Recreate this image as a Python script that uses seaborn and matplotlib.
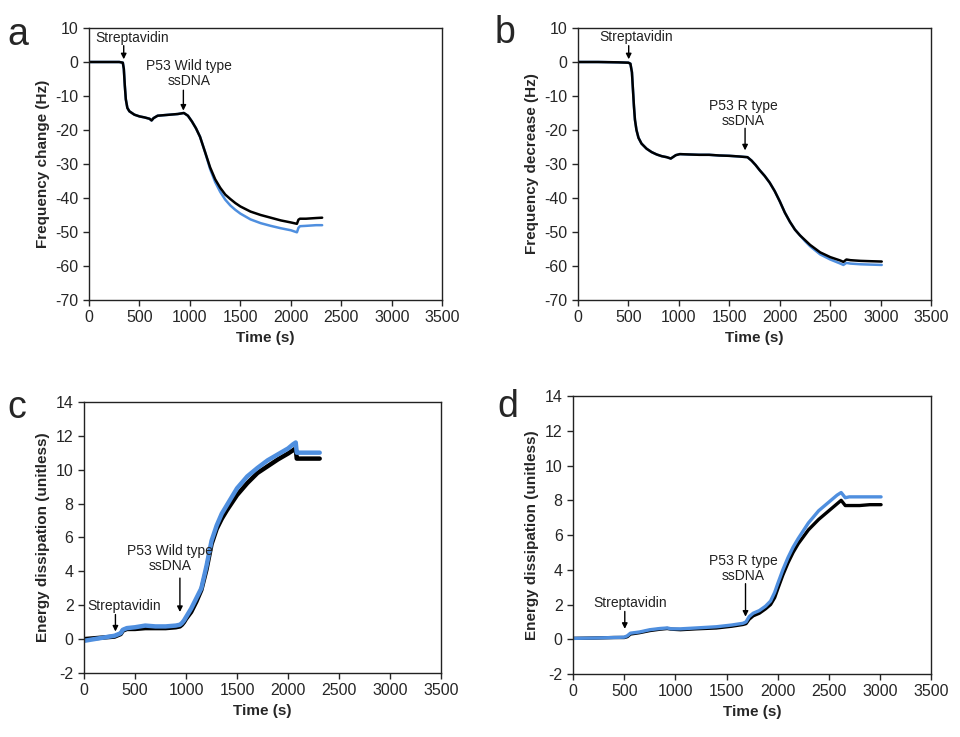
import matplotlib
matplotlib.use("Agg")
import matplotlib.pyplot as plt
import seaborn as sns
import pandas as pd

sns.set_style("ticks")
plt.rcParams["font.family"] = ["Liberation Sans", "DejaVu Sans"]
plt.rcParams["axes.unicode_minus"] = False

BLUE = "#4f8fdf"

# panel a: frequency change, wild type
a_time = [0, 100, 200, 300, 335, 345, 355, 365, 380, 400, 450, 500, 550, 600, 620, 640,
          680, 720, 800, 880, 940, 980, 1020, 1060, 1100, 1150, 1200, 1250, 1300, 1350,
          1400, 1450, 1500, 1600, 1700, 1800, 1900, 2000, 2060, 2075, 2090, 2150, 2200,
          2250, 2310]
a_black = [0, 0, 0, 0, -0.2, -2, -7, -11, -13.5, -14.5, -15.5, -16, -16.3, -16.7, -17.2,
           -16.5, -15.8, -15.7, -15.5, -15.3, -15, -15.8, -17.5, -19.5, -22, -26.5, -31,
           -34.5, -37, -39, -40.3, -41.5, -42.5, -44, -45, -45.8, -46.6, -47.2, -47.6,
           -46.4, -46.1, -46.1, -46, -45.9, -45.8]
a_blue = [0, 0, 0, 0, -0.2, -2, -7, -11, -13.5, -14.5, -15.5, -16, -16.3, -16.7, -17.2,
          -16.5, -15.8, -15.7, -15.5, -15.3, -15, -15.8, -17.5, -19.5, -22, -26.5, -31.5,
          -35.3, -38.2, -40.5, -42.2, -43.5, -44.6, -46.3, -47.4, -48.2, -48.9, -49.5,
          -50.1, -48.8, -48.3, -48.2, -48.1, -48, -48]

# panel b: frequency decrease, R type
b_time = [0, 200, 400, 500, 520, 535, 545, 555, 565, 580, 600, 630, 680, 730, 780, 830,
          880, 920, 940, 970, 1010, 1100, 1200, 1300, 1400, 1500, 1600, 1680, 1720, 1760,
          1800, 1850, 1900, 1950, 2000, 2050, 2100, 2150, 2200, 2250, 2300, 2400, 2500,
          2600, 2630, 2660, 2700, 2800, 2900, 3010]
b_black = [0, 0, -0.1, -0.2, -0.5, -3, -8, -13, -17, -20, -22.3, -24, -25.5, -26.5, -27.2,
           -27.7, -28, -28.4, -28, -27.4, -27.1, -27.2, -27.3, -27.3, -27.5, -27.6, -27.8,
           -28, -29, -30.3, -31.8, -33.5, -35.5, -38, -41, -44.3, -47, -49.3, -51, -52.4,
           -53.8, -56, -57.4, -58.4, -58.8, -58.1, -58.3, -58.5, -58.6, -58.7]
b_blue = [0, 0, -0.1, -0.2, -0.5, -3, -8, -13, -17, -20, -22.3, -24, -25.5, -26.5, -27.2,
          -27.7, -28, -28.4, -28, -27.4, -27.1, -27.2, -27.3, -27.3, -27.5, -27.6, -27.8,
          -28, -29, -30.3, -31.8, -33.5, -35.5, -38, -41, -44.3, -47, -49.3, -51, -52.7,
          -54.2, -56.6, -58.1, -59.3, -59.7, -59.1, -59.3, -59.5, -59.6, -59.7]

# panel c: dissipation, wild type
c_time = [0, 100, 200, 300, 340, 360, 380, 420, 500, 600, 700, 800, 900, 940, 960, 980,
          1000, 1050, 1100, 1150, 1200, 1250, 1300, 1350, 1400, 1500, 1600, 1700, 1800,
          1900, 2000, 2050, 2075, 2085, 2100, 2200, 2310]
c_black = [0, 0.05, 0.1, 0.15, 0.25, 0.3, 0.5, 0.6, 0.6, 0.65, 0.65, 0.65, 0.7, 0.75,
           0.85, 1.0, 1.2, 1.6, 2.2, 2.9, 4.1, 5.6, 6.5, 7.1, 7.6, 8.5, 9.2, 9.8, 10.2,
           10.6, 10.95, 11.15, 11.25, 10.65, 10.65, 10.65, 10.65]
c_blue = [-0.1, 0, 0.1, 0.2, 0.3, 0.35, 0.55, 0.65, 0.7, 0.8, 0.75, 0.75, 0.8, 0.85, 0.95,
          1.1, 1.3, 1.8, 2.4, 3.0, 4.3, 5.8, 6.7, 7.4, 7.9, 8.9, 9.6, 10.1, 10.55, 10.9,
          11.25, 11.5, 11.6, 11.0, 11.0, 11.0, 11.0]

# panel d: dissipation, R type
d_time = [0, 200, 400, 500, 530, 560, 650, 750, 850, 920, 960, 1050, 1200, 1400, 1550,
          1660, 1690, 1720, 1760, 1820, 1880, 1930, 1970, 2000, 2050, 2100, 2150, 2200,
          2300, 2400, 2500, 2580, 2620, 2660, 2700, 2800, 2900, 3010]
d_black = [0.05, 0.07, 0.1, 0.1, 0.15, 0.3, 0.38, 0.5, 0.58, 0.62, 0.58, 0.55, 0.6, 0.65,
           0.75, 0.85, 0.9, 1.15, 1.35, 1.5, 1.75, 2.0, 2.4, 2.9, 3.7, 4.4, 5.0, 5.5, 6.3,
           6.9, 7.4, 7.8, 8.0, 7.7, 7.7, 7.7, 7.75, 7.75]
d_blue = [0.05, 0.07, 0.1, 0.12, 0.2, 0.35, 0.42, 0.55, 0.62, 0.65, 0.6, 0.6, 0.65, 0.72,
          0.82, 0.92, 1.0, 1.3, 1.5, 1.65, 1.9, 2.2, 2.7, 3.2, 4.0, 4.7, 5.3, 5.8, 6.7,
          7.4, 7.9, 8.3, 8.45, 8.15, 8.2, 8.2, 8.2, 8.2]

freq_ticks = [10, 0, -10, -20, -30, -40, -50, -60, -70]
diss_ticks = [14, 12, 10, 8, 6, 4, 2, 0, -2]
time_ticks = [0, 500, 1000, 1500, 2000, 2500, 3000, 3500]

# (text, text x, text y, arrow x, arrow top, arrow bottom)
a_notes = [("Streptavidin", 430, 7.2, 344, 4.8, 0.8),
           ("P53 Wild type\nssDNA", 990, -3.4, 935, -8.3, -14.3)]
b_notes = [("Streptavidin", 580, 7.3, 503, 4.8, 0.8),
           ("P53 R type\nssDNA", 1640, -15.1, 1656, -19.5, -26)]
c_notes = [("Streptavidin", 390, 1.93, 308, 1.45, 0.45),
           ("P53 Wild type\nssDNA", 840, 4.75, 940, 3.6, 1.6)]
d_notes = [("Streptavidin", 554, 2.07, 505, 1.6, 0.6),
           ("P53 R type\nssDNA", 1662, 4.1, 1685, 3.2, 1.3)]


def draw_panel(ax, time, black, blue, ylabel, yticks, notes, blue_on_top, lw):
    df = pd.DataFrame({"time": time, "black": black, "blue": blue})
    order = ["black", "blue"] if blue_on_top else ["blue", "black"]
    for col in order:
        sns.lineplot(x="time", y=col, data=df, ax=ax,
                     color=BLUE if col == "blue" else "black", lw=lw)
    ax.set_xlim(0, 3500)
    ax.set_ylim(min(yticks), max(yticks))
    ax.set_xticks(time_ticks)
    ax.set_yticks(yticks)
    ax.tick_params(labelsize=11.5, length=4, width=1, direction="out")
    ax.set_xlabel("Time (s)", fontsize=11, fontweight="bold")
    ax.set_ylabel(ylabel, fontsize=11, fontweight="bold")
    for s in ax.spines.values():
        s.set_visible(True)
        s.set_color("#222222")
        s.set_linewidth(1)
    for text, tx, ty, axx, ytop, ybot in notes:
        ax.text(tx, ty, text, ha="center", va="center", fontsize=10,
                linespacing=1.1, color="#222222")
        ax.annotate("", xy=(axx, ybot), xytext=(axx, ytop),
                    arrowprops=dict(arrowstyle="-|>", color="black", lw=1,
                                    mutation_scale=8, shrinkA=0, shrinkB=0))


fig = plt.figure(figsize=(9.6, 7.37), dpi=100)
ax_a = fig.add_axes([0.0927, 0.593, 0.368, 0.369])
ax_b = fig.add_axes([0.602, 0.593, 0.368, 0.369])
ax_c = fig.add_axes([0.0875, 0.0868, 0.372, 0.368])
ax_d = fig.add_axes([0.597, 0.0855, 0.373, 0.377])

draw_panel(ax_a, a_time, a_black, a_blue, "Frequency change (Hz)", freq_ticks, a_notes, False, 1.8)
draw_panel(ax_b, b_time, b_black, b_blue, "Frequency decrease (Hz)", freq_ticks, b_notes, False, 1.8)
draw_panel(ax_c, c_time, c_black, c_blue, "Energy dissipation (unitless)", diss_ticks, c_notes, True, 3.2)
draw_panel(ax_d, d_time, d_black, d_blue, "Energy dissipation (unitless)", diss_ticks, d_notes, True, 2.4)

for label, x, y in [("a", 7, 45), ("b", 495, 43), ("c", 7, 418), ("d", 497, 417)]:
    fig.text(x / 960, 1 - y / 737, label, fontsize=27, ha="left", va="baseline")

fig.savefig("out.png", dpi=100, facecolor="white")
